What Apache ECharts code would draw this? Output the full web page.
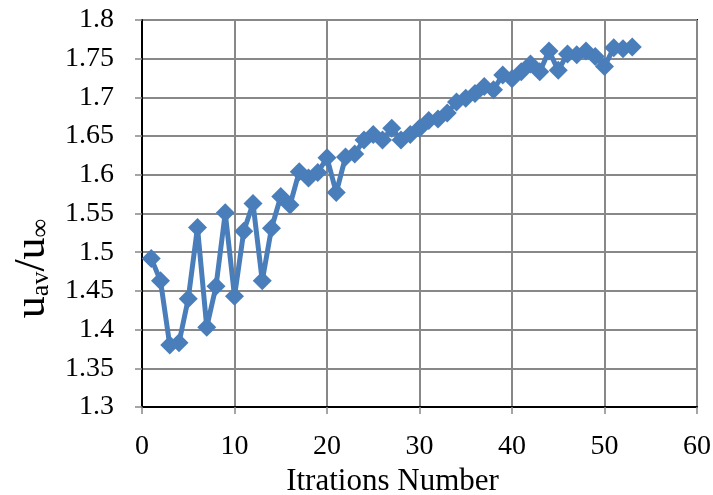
<!DOCTYPE html>
<html>
<head>
<meta charset="utf-8">
<script src="https://cdn.jsdelivr.net/npm/echarts@6/dist/echarts.min.js"></script>
<style>
  html, body { margin: 0; padding: 0; background: #fff; }
  #chart { width: 713px; height: 495px; }
</style>
</head>
<body>
<div id="chart"></div>
<script>
// Iteration index and averaged velocity ratio u_av / u_inf
const iterations = [1,2,3,4,5,6,7,8,9,10,11,12,13,14,15,16,17,18,19,20,21,22,23,24,25,26,27,28,29,30,31,32,33,34,35,36,37,38,39,40,41,42,43,44,45,46,47,48,49,50,51,52,53];
const velocityRatio = [1.492,1.463,1.380,1.383,1.440,1.532,1.403,1.456,1.551,1.443,1.527,1.563,1.463,1.531,1.572,1.561,1.604,1.596,1.603,1.622,1.577,1.623,1.627,1.645,1.652,1.645,1.660,1.645,1.652,1.660,1.670,1.672,1.680,1.694,1.699,1.705,1.714,1.710,1.729,1.724,1.733,1.743,1.733,1.760,1.735,1.756,1.755,1.760,1.753,1.740,1.764,1.763,1.765];

const serif = '"Liberation Serif", "DejaVu Serif", serif';
const chart = echarts.init(document.getElementById('chart'));

chart.setOption({
  animation: false,
  backgroundColor: '#fff',
  grid: {
    left: 142, right: 16, top: 20, bottom: 88,
    outerBoundsMode: 'none', containLabel: false,
    show: true, borderColor: '#000', borderWidth: 2
  },
  xAxis: {
    type: 'value', min: 0, max: 60, interval: 10,
    name: 'Itrations Number', nameLocation: 'middle', nameGap: 58,
    nameTextStyle: { fontFamily: serif, fontSize: 31, color: '#000', padding: [0, 54, 0, 0] },
    axisLine: { show: true, lineStyle: { color: '#000', width: 2 } },
    axisTick: { show: true, length: 7, lineStyle: { color: '#888', width: 1.5 } },
    axisLabel: { fontFamily: serif, fontSize: 28, color: '#000', margin: 26 },
    splitLine: { show: true, lineStyle: { color: '#888', width: 2 } }
  },
  yAxis: {
    type: 'value', min: 1.3, max: 1.8, interval: 0.05,
    name: '{a|u}{b|av}{a|/u}{b|∞}', nameLocation: 'middle', nameGap: 88, nameRotate: 90,
    nameTextStyle: {
      fontFamily: serif, color: '#000', padding: [0, 110, 0, 0],
      rich: {
        a: { fontFamily: serif, fontSize: 44, color: '#000', verticalAlign: 'bottom', lineHeight: 46 },
        b: { fontFamily: serif, fontSize: 26, color: '#000', verticalAlign: 'bottom', lineHeight: 36 }
      }
    },
    axisLine: { show: true, lineStyle: { color: '#000', width: 2 } },
    axisTick: { show: true, length: 7, lineStyle: { color: '#888', width: 1.5 } },
    axisLabel: {
      fontFamily: serif, fontSize: 28, color: '#000', margin: 28,
      formatter: v => String(parseFloat(v.toFixed(2)))
    },
    splitLine: { show: true, lineStyle: { color: '#888', width: 2 } }
  },
  series: [{
    type: 'line',
    data: iterations.map((x, i) => [x, velocityRatio[i]]),
    symbol: 'diamond', symbolSize: 19,
    lineStyle: { color: '#4a7ebb', width: 5 },
    itemStyle: { color: '#4a7ebb' }
  }]
});
</script>
</body>
</html>
